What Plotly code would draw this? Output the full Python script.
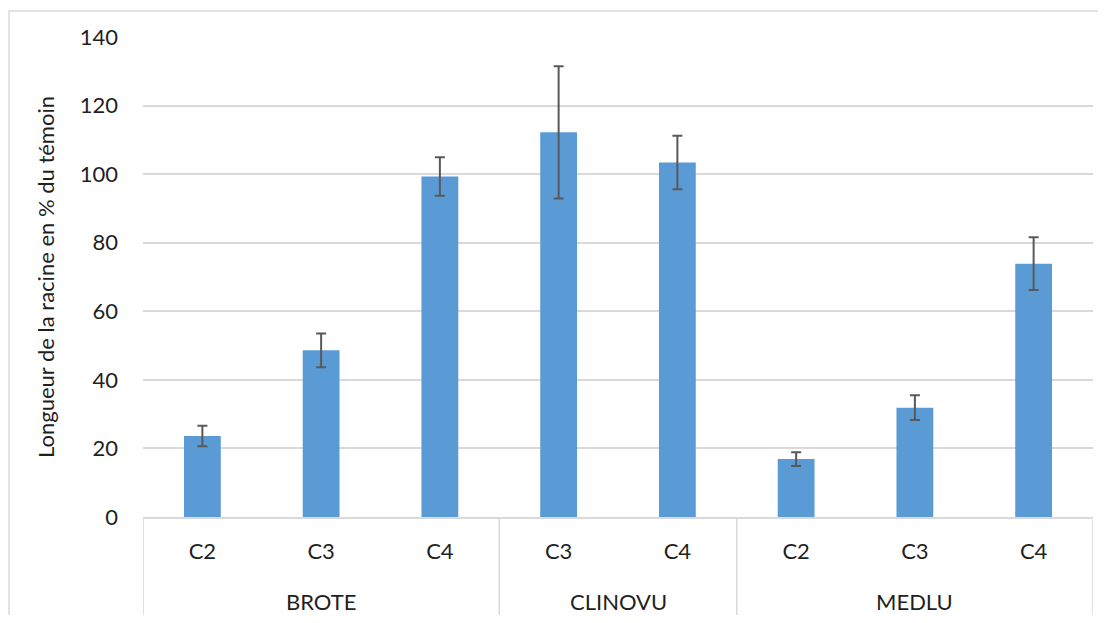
import plotly.graph_objects as go

groups = ["BROTE", "BROTE", "BROTE", "CLINOVU", "CLINOVU", "MEDLU", "MEDLU", "MEDLU"]
levels = ["C2", "C3", "C4", "C3", "C4", "C2", "C3", "C4"]
values = [23.6, 48.6, 99.3, 112.2, 103.4, 16.9, 31.9, 73.9]
errors = [3.0, 4.9, 5.6, 19.3, 7.8, 2.0, 3.6, 7.7]
y_ticks = [0, 20, 40, 60, 80, 100, 120, 140]

FONT = "Lato"
GRID = "#d9d9d9"
TXT = "#1f1f1f"

n = len(levels)
xpos = list(range(n))

# group spans derived from the data
group_names, group_centers, boundaries = [], [], [-0.5]
start = 0
for i in range(1, n + 1):
    if i == n or groups[i] != groups[start]:
        group_names.append(groups[start])
        group_centers.append((start + i - 1) / 2)
        boundaries.append(i - 0.5)
        start = i

fig = go.Figure()
fig.add_trace(go.Bar(
    x=xpos,
    y=values,
    marker=dict(color="#5b9bd5", line=dict(width=0)),
    error_y=dict(type="data", array=errors, visible=True,
                 color="#595959", thickness=2, width=5),
    width=0.31,
))

annotations = [dict(x=c, y=-0.177, xref="x", yref="paper", text=g,
                    showarrow=False, yanchor="middle", xanchor="center",
                    font=dict(family=FONT, size=22, color=TXT))
               for g, c in zip(group_names, group_centers)]

shapes = [dict(type="line", xref="x", yref="paper", x0=b, x1=b, y0=0, y1=-0.222,
               line=dict(color=GRID, width=1.5)) for b in boundaries]
shapes.append(dict(type="rect", xref="paper", yref="paper",
                   x0=-0.141, x1=1.05, y0=-0.5, y1=1.054,
                   line=dict(color=GRID, width=1.5), fillcolor="rgba(0,0,0,0)",
                   layer="below"))

fig.update_layout(
    width=1090, height=607,
    margin=dict(l=135, r=5, t=29, b=98),
    paper_bgcolor="white", plot_bgcolor="white",
    showlegend=False,
    font=dict(family=FONT, size=22, color=TXT),
    xaxis=dict(
        tickvals=xpos, ticktext=levels,
        showline=True, linecolor=GRID, linewidth=1.5,
        tickfont=dict(family=FONT, size=22, color=TXT),
        ticks="", showgrid=False, zeroline=False,
        ticklabelstandoff=14,
        range=[-0.5, n - 0.5],
    ),
    yaxis=dict(
        range=[0, 140], tickvals=y_ticks,
        showgrid=True, gridcolor=GRID, gridwidth=1.5,
        zeroline=False, showline=False, ticks="",
        tickfont=dict(family=FONT, size=22, color=TXT),
        ticklabelstandoff=24,
        title=dict(text="Longueur de la racine en % du témoin",
                   font=dict(family=FONT, size=22, color=TXT), standoff=19),
    ),
    annotations=annotations,
    shapes=shapes,
)

fig.write_html("out.html")
